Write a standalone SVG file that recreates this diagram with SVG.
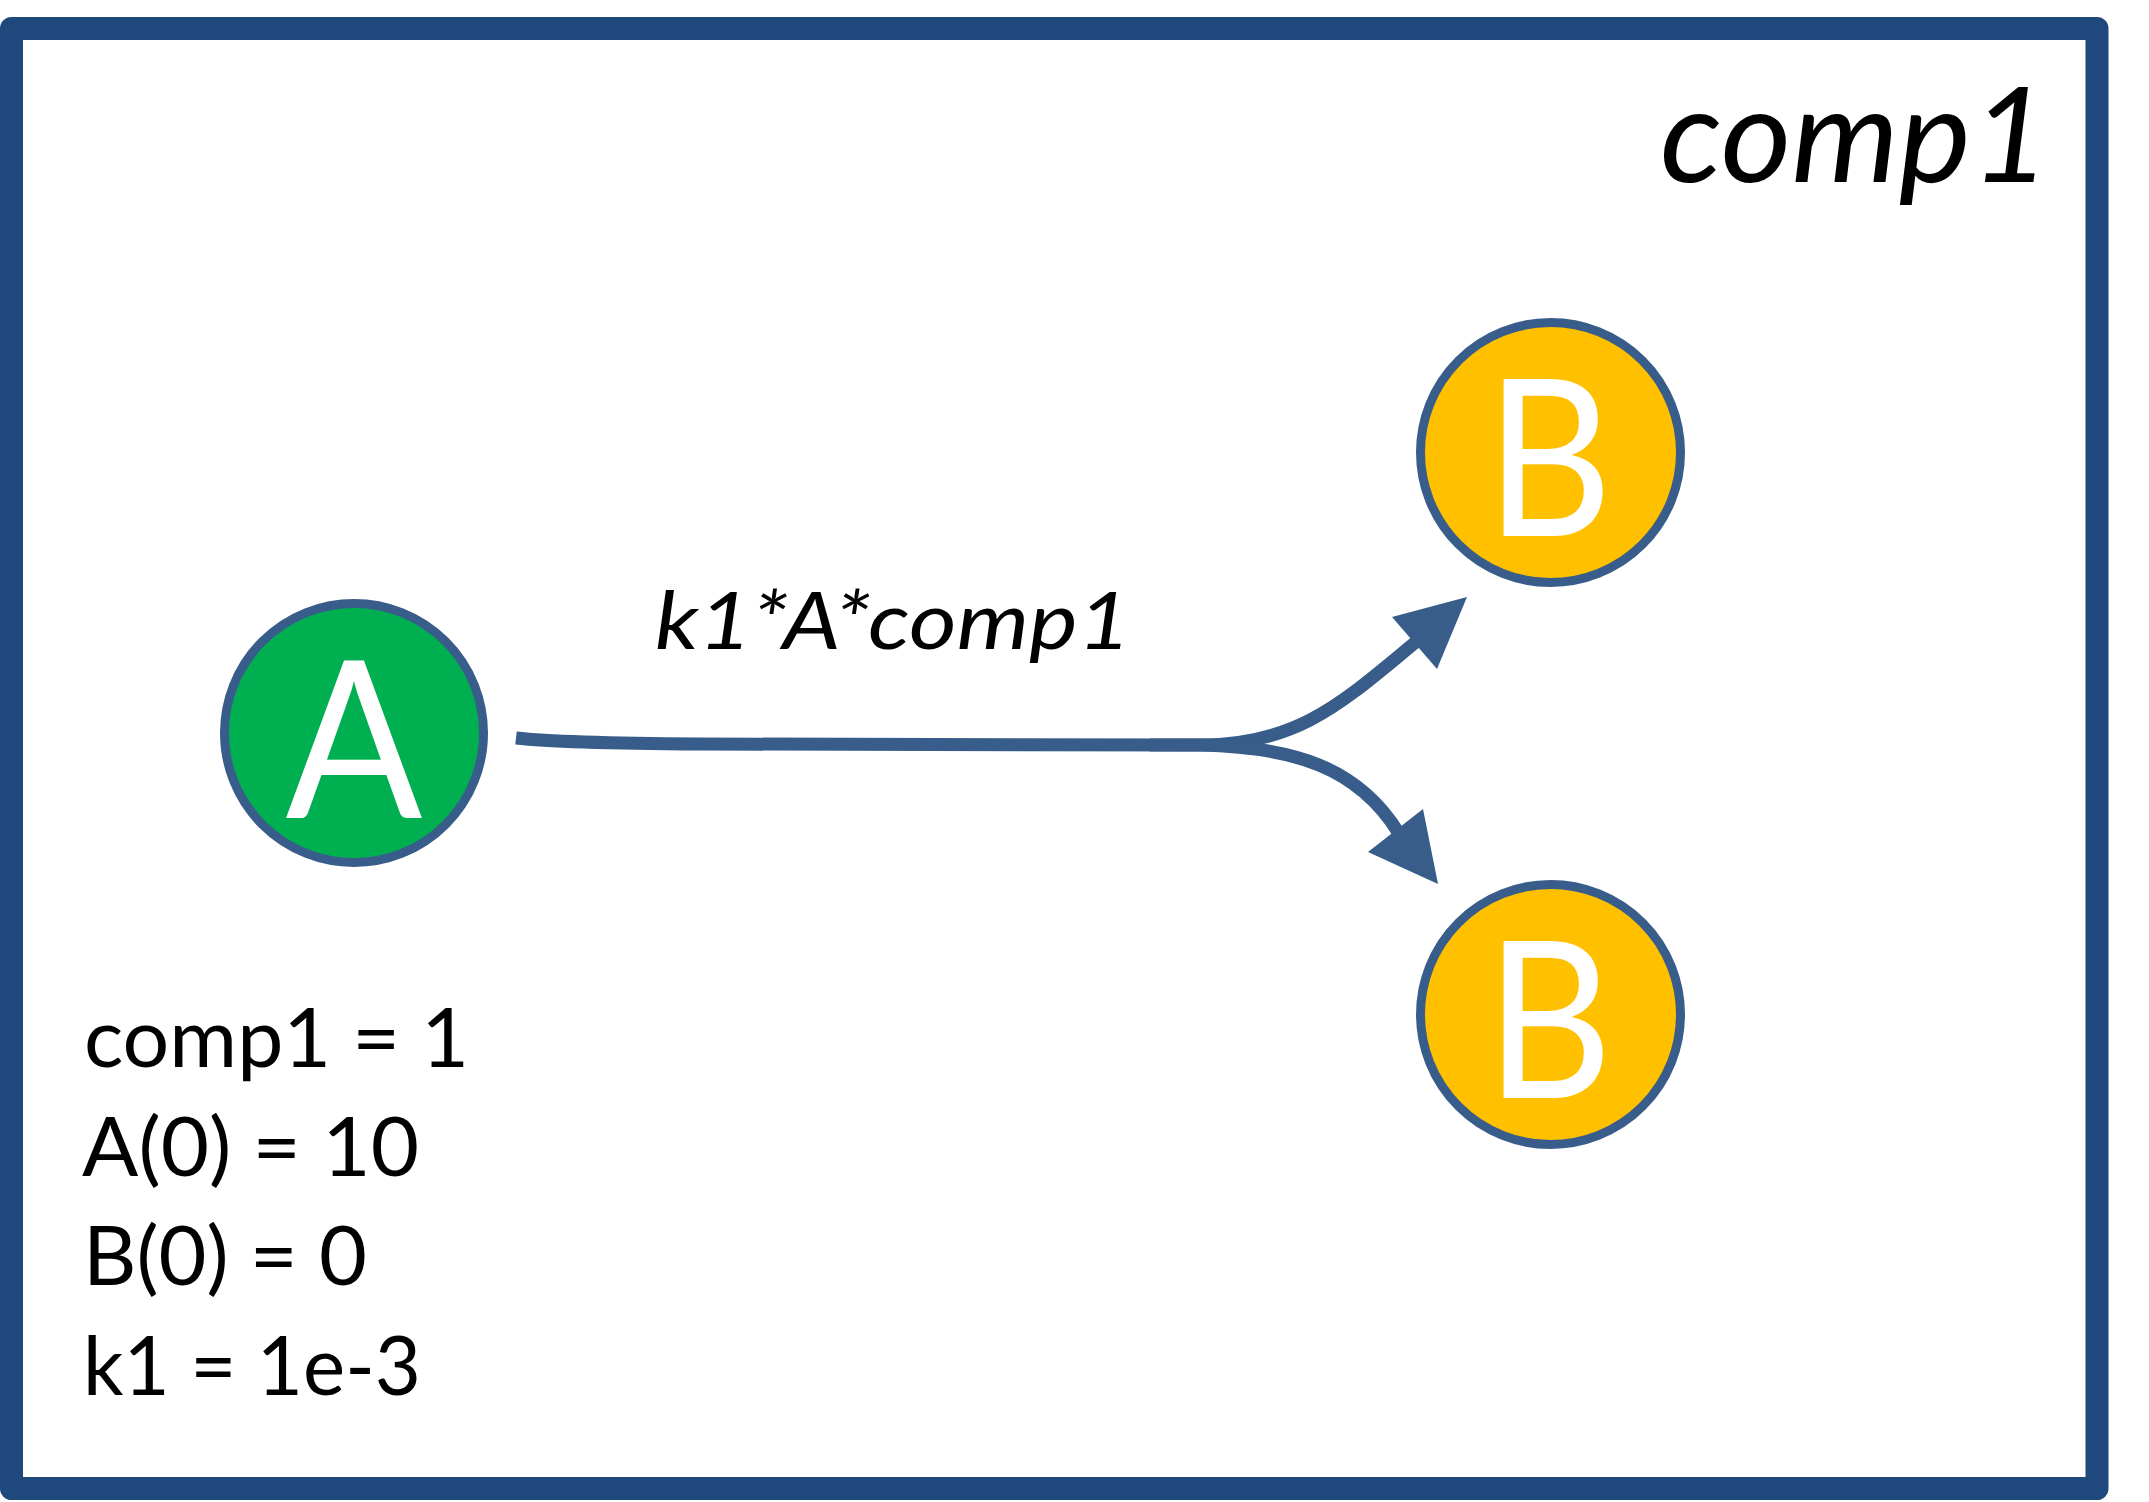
<svg xmlns="http://www.w3.org/2000/svg" width="2149" height="1502" viewBox="0 0 2149 1502">
<style>
.frame{fill:#ffffff;stroke:#1F497D;stroke-width:23;stroke-linejoin:round}
.node{stroke:#385D8A;stroke-width:9}
.nodeA{fill:#00B050}
.nodeB{fill:#FFC000}
.nlabel{font-family:Lato,"Liberation Sans",sans-serif;font-size:220px;fill:#ffffff;text-anchor:middle}
.edge{fill:none;stroke:#385D8A;stroke-width:13}
.head{fill:#385D8A;stroke:none}
.txt{font-family:Lato,"Liberation Sans",sans-serif;fill:#000000}
.it{font-style:italic}
</style>
<rect width="2149" height="1502" fill="#ffffff"/>
<g id="compartment">
<rect class="frame" x="11.5" y="28.5" width="2085.5" height="1460"/>
<text class="txt it" x="1660" y="182" font-size="133" textLength="390" lengthAdjust="spacingAndGlyphs">comp1</text>
</g>
<g id="connectors">
<path class="edge" d="M516,738 Q560,743 700,744 L1200,745 C1300,745 1345,700 1417,641"/>
<path class="edge" d="M1150,745 L1200,745 C1295,747 1358,768 1398,832"/>
<polygon class="head" points="1392,617 1467,597 1437,669"/>
<polygon class="head" points="1368,852 1423,809 1438,884"/>
<text class="txt it" x="655" y="649" font-size="80" textLength="476" lengthAdjust="spacingAndGlyphs">k1*A*comp1</text>
</g>
<g id="node-A">
<circle class="node nodeA" cx="354" cy="733" r="129.5"/>
<text class="nlabel" x="354" y="818" transform="matrix(0.92 0 0 1 28.32 0)">A</text>
</g>
<g id="node-B1">
<circle class="node nodeB" cx="1550.5" cy="452.5" r="130"/>
<text class="nlabel" x="1549" y="536" transform="matrix(0.89 0 0 1 170.39 0)">B</text>
</g>
<g id="node-B2">
<circle class="node nodeB" cx="1550.5" cy="1014.5" r="130"/>
<text class="nlabel" x="1549" y="1098" transform="matrix(0.89 0 0 1 170.39 0)">B</text>
</g>
<g id="parameters">
<text class="txt" x="84" y="1067" font-size="81" textLength="385" lengthAdjust="spacingAndGlyphs">comp1 = 1</text>
<text class="txt" x="82" y="1176" font-size="81" textLength="337" lengthAdjust="spacingAndGlyphs">A(0) = 10</text>
<text class="txt" x="83" y="1285" font-size="81" textLength="284" lengthAdjust="spacingAndGlyphs">B(0) = 0</text>
<text class="txt" x="83" y="1395" font-size="81" textLength="338" lengthAdjust="spacingAndGlyphs">k1 = 1e-3</text>
</g>
</svg>
